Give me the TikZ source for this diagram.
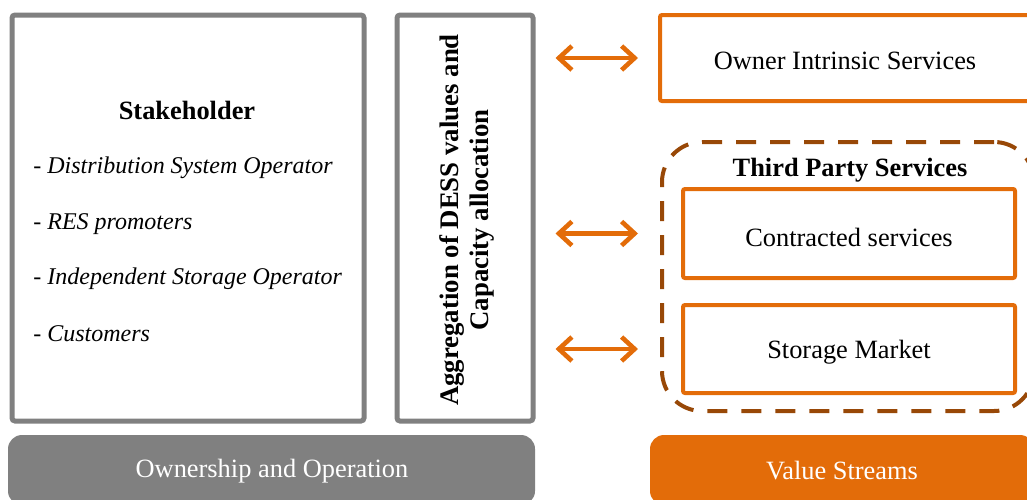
\documentclass[tikz,border=0pt]{standalone}
\usepackage{fontspec}
\setmainfont{Liberation Serif}
\usetikzlibrary{arrows.meta}

\definecolor{boxgray}{HTML}{808080}
\definecolor{vsorange}{HTML}{E36C09}
\definecolor{tpbrown}{HTML}{984807}

\tikzset{
  every node/.style={font=\fontsize{13.2pt}{15pt}\selectfont},
  graybox/.style={draw=boxgray,line width=2.5pt,rounded corners=1.5pt},
  orangebox/.style={draw=vsorange,line width=2pt,rounded corners=1pt},
  tpsbox/.style={draw=tpbrown,line width=2pt,rounded corners=20pt,dash pattern=on 10pt off 7pt},
  biarrow/.style={vsorange,line width=2.3pt,line cap=round,line join=round,
    {Straight Barb[length=6.5pt,width=12pt]}-{Straight Barb[length=6.5pt,width=12pt]}},
  bar/.style={rounded corners=7pt,text=white,minimum height=35pt}
}

\begin{document}
\begin{tikzpicture}[x=0.5pt,y=-0.5pt]
\clip (0,0) rectangle (1027,499);
% left side
\node[graybox,minimum width=176pt,minimum height=203pt] (stake) at (188,218) {};
\node[font=\fontsize{13.2pt}{15pt}\selectfont\bfseries] (stitle) at (187,110) {Stakeholder};
\foreach \y/\txt [count=\i] in {166/Distribution System Operator,222/RES promoters,277/Independent Storage Operator,332/Customers}
  \node[anchor=west,inner sep=0pt,font=\fontsize{12pt}{14pt}\selectfont] (item-\i) at (33,\y+2) {- \textit{\txt}};
\node[graybox,minimum width=68pt,minimum height=203pt] (agg) at (465,218) {};
\node[rotate=90,align=center,font=\fontsize{13.4pt}{15pt}\selectfont\bfseries] (aggtext) at (467,220)
  {Aggregation of DESS values and\\Capacity allocation};
% right side
\node[orangebox,minimum width=185pt,minimum height=43pt] (own) at (845,58) {};
\node (ownlabel) at (845,61) {Owner Intrinsic Services};
\node[tpsbox,minimum width=186pt,minimum height=134.5pt] (tps) at (848,276.5) {};
\node[font=\fontsize{13.2pt}{15pt}\selectfont\bfseries] (tpstitle) at (850,170) {Third Party Services};
\node[orangebox,minimum width=166pt,minimum height=44.5pt] (cs) at (849,233.5) {};
\node (cslabel) at (849,237) {Contracted services};
\node[orangebox,minimum width=166pt,minimum height=44pt] (sm) at (849,349) {};
\node (smlabel) at (849,352) {Storage Market};
% arrows
\draw[biarrow] ([xshift=10pt]agg.east |- own.west) -- ([xshift=-10pt]own.west);
\draw[biarrow] ([xshift=10pt]agg.east |- cs.west) -- ([xshift=-10pt]own.west |- cs.west);
\draw[biarrow] ([xshift=10pt]agg.east |- sm.west) -- ([xshift=-10pt]own.west |- sm.west);
% bottom bars
\node[bar,fill=boxgray,minimum width=263.5pt] (ownop) at (271.5,470) {};
\node[text=white] (ownoplabel) at (272,471) {Ownership and Operation};
\node[bar,fill=vsorange,minimum width=192pt] (vs) at (842,470) {};
\node[text=white] (vslabel) at (842,471) {Value Streams};
\end{tikzpicture}
\end{document}
